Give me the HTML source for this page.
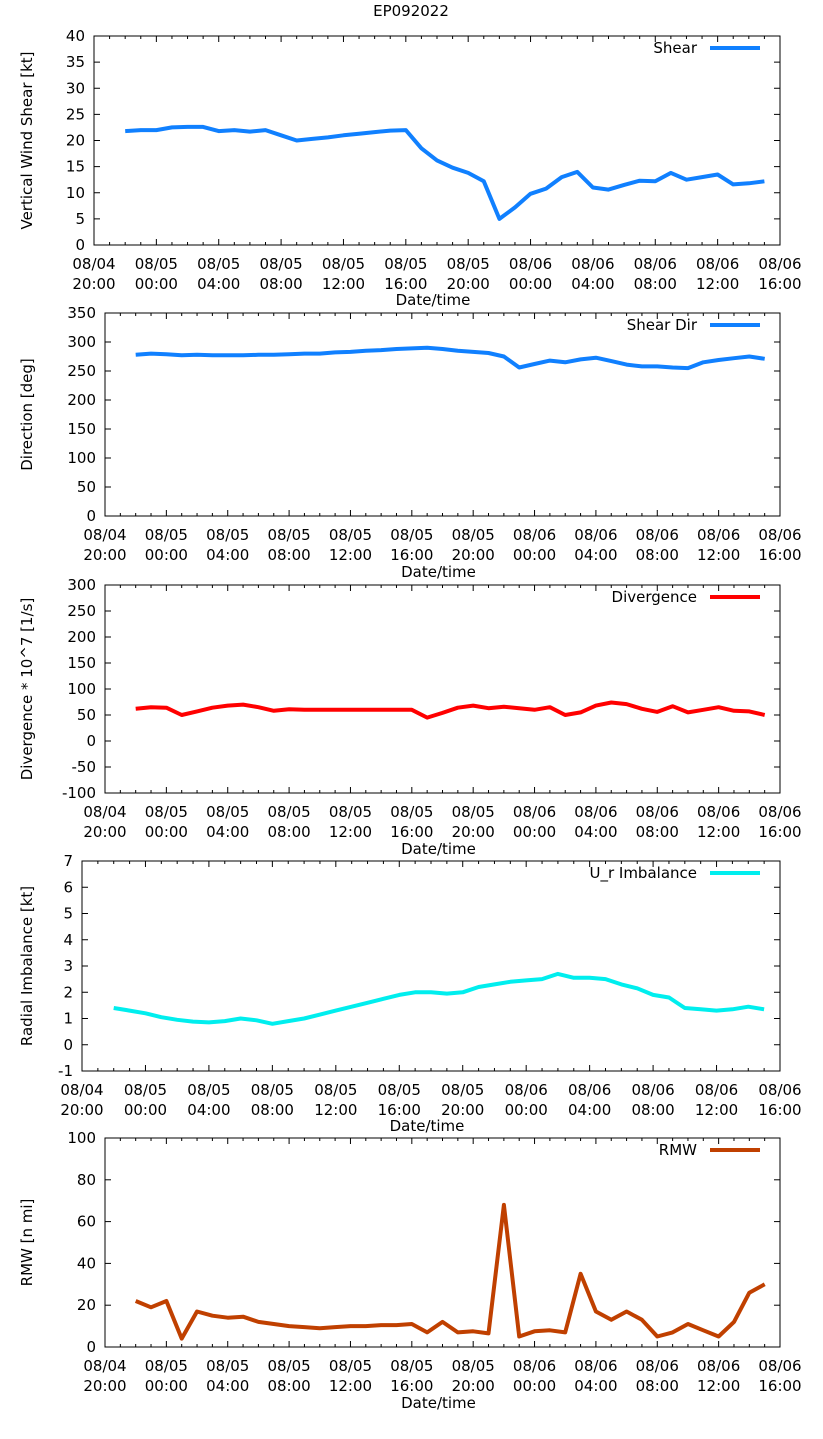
<!DOCTYPE html>
<html><head><meta charset="utf-8"><style>
body{margin:0;background:#fff}
svg{display:block;font-family:"DejaVu Sans","Liberation Sans",sans-serif}
</style></head><body>
<svg id="c" width="823" height="1439" xmlns="http://www.w3.org/2000/svg">
<text x="411" y="16" text-anchor="middle" font-size="15">EP092022</text>
</svg>
<script>
const hours = [2,3,4,5,6,7,8,9,10,11,12,13,14,15,16,17,18,19,20,21,22,23,24,25,26,27,28,29,30,31,32,33,34,35,36,37,38,39,40,41,42,43];
const xTickLabels = [["08/04","20:00"],["08/05","00:00"],["08/05","04:00"],["08/05","08:00"],["08/05","12:00"],["08/05","16:00"],["08/05","20:00"],["08/06","00:00"],["08/06","04:00"],["08/06","08:00"],["08/06","12:00"],["08/06","16:00"]];
const shear = [21.8,22,22,22.5,22.6,22.6,21.8,22,21.7,22,21,20,20.3,20.6,21,21.3,21.6,21.9,22,18.5,16.2,14.8,13.8,12.2,5,7.2,9.8,10.8,13,14,11,10.6,11.5,12.3,12.2,13.8,12.5,13,13.5,11.6,11.8,12.2];
const shearDir = [278,280,279,277,278,277,277,277,278,278,279,280,280,282,283,285,286,288,289,290,288,285,283,281,275,256,262,268,265,270,273,267,261,258,258,256,255,265,269,272,275,271];
const divergence = [62,65,64,50,57,64,68,70,65,58,61,60,60,60,60,60,60,60,60,45,54,64,68,63,66,63,60,65,50,55,68,74,71,62,56,67,55,60,65,58,57,50];
const imbalance = [1.4,1.3,1.2,1.05,0.95,0.88,0.85,0.9,1.0,0.93,0.8,0.9,1.0,1.15,1.3,1.45,1.6,1.75,1.9,2.0,2.0,1.95,2.0,2.2,2.3,2.4,2.45,2.5,2.7,2.55,2.55,2.5,2.3,2.15,1.9,1.8,1.4,1.35,1.3,1.35,1.45,1.35];
const rmw = [22,19,22,4,17,15,14,14.5,12,11,10,9.5,9,9.5,10,10,10.5,10.5,11,7,12,7,7.5,6.5,68,5,7.5,8,7,35,17,13,17,13,5,7,11,8,5,12,26,30];

const panels = [
 {name:"shear",left:94,top:36,bottom:245,ymin:0,ymax:40,ystep:5,ylabel:"Vertical Wind Shear [kt]",legend:"Shear",data:shear,color:"#1080ff",xlab:301},
 {name:"shear-dir",left:105,top:313,bottom:516,ymin:0,ymax:350,ystep:50,ylabel:"Direction [deg]",legend:"Shear Dir",data:shearDir,color:"#1080ff",xlab:573},
 {name:"divergence",left:105,top:585,bottom:793,ymin:-100,ymax:300,ystep:50,ylabel:"Divergence * 10^7 [1/s]",legend:"Divergence",data:divergence,color:"#ff0000",xlab:850},
 {name:"imbalance",left:82,top:861,bottom:1071,ymin:-1,ymax:7,ystep:1,ylabel:"Radial Imbalance [kt]",legend:"U_r Imbalance",data:imbalance,color:"#00eeee",xlab:1127},
 {name:"rmw",left:105,top:1138,bottom:1347,ymin:0,ymax:100,ystep:20,ylabel:"RMW [n mi]",legend:"RMW",data:rmw,color:"#c04000",xlab:1404}
];
const svg=document.getElementById('c');
const NS="http://www.w3.org/2000/svg";
function mk(tag,attrs,parent){const e=document.createElementNS(NS,tag);for(const k in attrs)e.setAttribute(k,attrs[k]);(parent||svg).appendChild(e);return e;}
const RIGHT=780;
panels.forEach(p=>{
  const g=mk('g',{});
  
  
  const xs=t=>p.left+(t/44)*(RIGHT-p.left);
  const ys=v=>p.bottom-(v-p.ymin)/(p.ymax-p.ymin)*(p.bottom-p.top);
  // x ticks
  for(let h=0;h<=44;h++){
    const x=xs(h), L=(h%4===0)?6:3;
    mk('line',{x1:x,x2:x,y1:p.bottom,y2:p.bottom-L,stroke:'#000','stroke-width':1},g);
    mk('line',{x1:x,x2:x,y1:p.top,y2:p.top+L,stroke:'#000','stroke-width':1},g);
  }
  xTickLabels.forEach((lab,i)=>{
    const x=xs(i*4);
    const t=mk('text',{x:x,y:p.bottom+24,'text-anchor':'middle','font-size':15},g);
    
    
    t.textContent=lab[0];
    const t2=mk('text',{x:x,y:p.bottom+44,'text-anchor':'middle','font-size':15},g);
    
    
    t2.textContent=lab[1];
  });
  // y ticks
  for(let v=p.ymin;v<=p.ymax+1e-9;v+=p.ystep){
    const y=ys(v);
    mk('line',{x1:p.left,x2:p.left+6,y1:y,y2:y,stroke:'#000','stroke-width':1},g);
    mk('line',{x1:RIGHT,x2:RIGHT-6,y1:y,y2:y,stroke:'#000','stroke-width':1},g);
    const t=mk('text',{x:p.left-9,y:y+5,'text-anchor':'end','font-size':15},g);
    
    
    t.textContent=String(Math.round(v*100)/100);
  }
  const fr=mk('rect',{x:p.left,y:p.top,width:RIGHT-p.left,height:p.bottom-p.top,fill:'none',stroke:'#000','stroke-width':1},g);
  
  
  // axis titles
  const yl=mk('text',{x:0,y:0,'text-anchor':'middle','font-size':15,transform:`translate(32,${(p.top+p.bottom)/2}) rotate(-90)`},g);
  
  
  yl.textContent=p.ylabel;
  const xl=mk('text',{x:(p.left+RIGHT)/2-4,y:p.xlab+4,'text-anchor':'middle','font-size':15},g);
  
  
  xl.textContent='Date/time';
  // series
  const pts=hours.map((h,i)=>xs(h).toFixed(1)+','+ys(p.data[i]).toFixed(1)).join(' ');
  const line=mk('polyline',{points:pts,fill:'none',stroke:p.color,'stroke-width':4,'stroke-linejoin':'round'},g);
  
  
  // legend
  const lt=mk('text',{x:697,y:p.top+17,'text-anchor':'end','font-size':15},g);
  
  
  lt.textContent=p.legend;
  const ll=mk('line',{x1:710,x2:760,y1:p.top+12,y2:p.top+12,stroke:p.color,'stroke-width':4},g);
  
  
});
</script>
</body></html>
